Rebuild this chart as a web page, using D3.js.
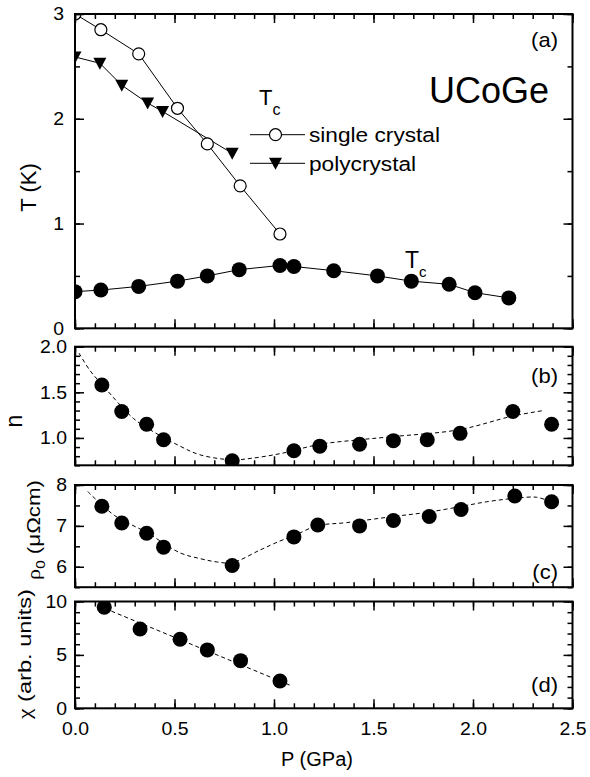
<!DOCTYPE html>
<html>
<head>
<meta charset="utf-8">
<script src="https://cdn.jsdelivr.net/npm/d3@7"></script>
<style>
  body { margin: 0; background: #fff; }
  svg { display: block; font-family: Arial, "Liberation Sans", Helvetica, sans-serif; }
</style>
</head>
<body>
<svg id="chart" width="590" height="777"></svg>
<script>
// ---------- data (pressure P in GPa) ----------
const pressureTicks = [0, 0.5, 1.0, 1.5, 2.0, 2.5];

// (a) Curie temperature, single crystal
const singleCrystalP = [0.0, 0.13, 0.32, 0.515, 0.665, 0.83, 1.03];
const singleCrystalT = [3.0, 2.85, 2.62, 2.10, 1.76, 1.36, 0.90];
// (a) Curie temperature, polycrystal
const polycrystalP = [0.0, 0.125, 0.235, 0.365, 0.44, 0.79];
const polycrystalT = [2.59, 2.53, 2.32, 2.15, 2.07, 1.67];
// (a) superconducting Tc
const scP = [0.0, 0.13, 0.32, 0.515, 0.665, 0.825, 1.03, 1.10, 1.30, 1.52, 1.69, 1.88, 2.01, 2.18];
const scT = [0.35, 0.365, 0.40, 0.45, 0.50, 0.56, 0.60, 0.59, 0.55, 0.50, 0.45, 0.42, 0.34, 0.29];

// (b) resistivity exponent n
const exponentP = [0.135, 0.235, 0.36, 0.445, 0.79, 1.10, 1.23, 1.43, 1.60, 1.77, 1.935, 2.20, 2.395];
const exponentN = [1.58, 1.29, 1.15, 0.98, 0.75, 0.86, 0.91, 0.93, 0.97, 0.98, 1.05, 1.29, 1.15];
const exponentGuideP = [0.02, 0.075, 0.134, 0.293, 0.377, 0.528, 0.628, 0.79, 0.88, 1.036, 1.23, 1.43, 1.6, 1.93, 2.2, 2.353];
const exponentGuideN = [1.93, 1.74, 1.59, 1.215, 1.09, 0.91, 0.815, 0.76, 0.775, 0.83, 0.93, 0.98, 1.015, 1.09, 1.24, 1.30];

// (c) residual resistivity rho0 (µΩcm)
const rhoP = [0.135, 0.235, 0.36, 0.445, 0.79, 1.10, 1.22, 1.43, 1.60, 1.78, 1.94, 2.21, 2.395];
const rhoV = [7.48, 7.07, 6.82, 6.48, 6.03, 6.73, 7.02, 7.00, 7.13, 7.23, 7.40, 7.73, 7.59];
const rhoGuideP = [0.064, 0.2, 0.36, 0.528, 0.628, 0.71, 0.79, 0.93, 1.03, 1.097, 1.215, 1.365, 1.6, 1.767, 1.935, 2.069, 2.203, 2.32, 2.39];
const rhoGuideV = [7.84, 7.25, 6.84, 6.34, 6.20, 6.12, 6.10, 6.41, 6.63, 6.75, 7.0, 7.08, 7.23, 7.33, 7.47, 7.59, 7.67, 7.70, 7.59];

// (d) susceptibility chi (arb. units)
const chiP = [0.147, 0.327, 0.528, 0.665, 0.832, 1.03];
const chiV = [9.47, 7.43, 6.47, 5.47, 4.46, 2.56];
const chiGuideP = [0.15, 1.09];
const chiGuideV = [9.35, 2.09];

// ---------- layout ----------
const svg = d3.select("#chart");
const X0 = 75, X1 = 572.5;
const x = d3.scaleLinear().domain([0, 2.5]).range([X0, X1]);
const xMinor = d3.range(0, 2.5001, 0.1);
const TICK_FONT = 18, TICK_SX = 1.08;

const panels = [
  { key: "a", domain: [0, 3],    range: [328.3, 14],    major: [0, 1, 2, 3],     minor: 0.5, fmt: d3.format("d"),   pad: 11 },
  { key: "b", domain: [0.7, 2],  range: [465.3, 346.7], major: [1.0, 1.5, 2.0],  minor: 0.1, fmt: d3.format(".1f"), pad: 8 },
  { key: "c", domain: [5.5, 8],  range: [587.2, 485],   major: [6, 7, 8],        minor: 0.5, fmt: d3.format("d"),   pad: 8 },
  { key: "d", domain: [0, 10],   range: [708.3, 601.5], major: [0, 5, 10],       minor: 1,   fmt: d3.format("d"),   pad: 8 }
];
panels.forEach(p => { p.y = d3.scaleLinear().domain(p.domain).range(p.range); });
const P = Object.fromEntries(panels.map(p => [p.key, p]));

const zip = (xs, ys) => xs.map((v, i) => [v, ys[i]]);

// text helper: optional horizontal glyph stretch or target length
function addText(parent, o) {
  const t = parent.append("text")
    .attr("font-size", o.size)
    .attr("text-anchor", o.anchor || "start")
    .attr("fill", "#000");
  (o.parts || [[o.text]]).forEach(([s, kind, family]) => {
    const ts = t.append("tspan").text(s);
    if (family) ts.attr("font-family", family);
    if (kind === "sub") ts.attr("font-size", o.subSize || o.size * 0.7).attr("dy", o.subShift || o.size * 0.3);
    if (kind === "back") ts.attr("dy", -(o.subShift || o.size * 0.3));
  });
  let sx = o.sx || 1;
  if (o.length) sx = o.length / t.node().getComputedTextLength();
  t.attr("transform", `translate(${o.x},${o.y}) rotate(${o.rotate || 0}) scale(${sx},1)`);
  return t;
}

// ---------- panels ----------
panels.forEach((p, idx) => {
  const g = svg.append("g").attr("class", "panel-" + p.key);
  const yTop = p.range[1], yBot = p.range[0];

  g.append("clipPath").attr("id", "clip-" + p.key)
    .append("rect").attr("x", X0).attr("y", yTop).attr("width", X1 - X0).attr("height", yBot - yTop);
  p.plot = g.append("g").attr("clip-path", `url(#clip-${p.key})`);
  p.axes = g.append("g");

  const yMinor = d3.range(p.domain[0], p.domain[1] + 1e-6, p.minor);
  const isLast = idx === panels.length - 1;

  // bottom
  p.axes.append("g").attr("transform", `translate(0,${yBot})`)
    .call(d3.axisBottom(x).tickValues(xMinor).tickSize(-5).tickFormat(""));
  const bm = p.axes.append("g").attr("transform", `translate(0,${yBot})`)
    .call(d3.axisBottom(x).tickValues(pressureTicks).tickSize(-9).tickPadding(14)
      .tickFormat(isLast ? d3.format(".1f") : ""));
  bm.selectAll("text").attr("font-size", TICK_FONT).attr("font-family", null).attr("transform", `scale(${TICK_SX},1)`);

  // top
  p.axes.append("g").attr("transform", `translate(0,${yTop})`).call(d3.axisTop(x).tickValues(xMinor).tickSize(-5).tickFormat(""));
  p.axes.append("g").attr("transform", `translate(0,${yTop})`).call(d3.axisTop(x).tickValues(pressureTicks).tickSize(-9).tickFormat(""));

  // left
  p.axes.append("g").attr("transform", `translate(${X0},0)`).call(d3.axisLeft(p.y).tickValues(yMinor).tickSize(-5).tickFormat(""));
  const lm = p.axes.append("g").attr("transform", `translate(${X0},0)`)
    .call(d3.axisLeft(p.y).tickValues(p.major).tickSize(-9).tickPadding(p.pad).tickFormat(p.fmt));
  lm.selectAll("text").attr("font-size", TICK_FONT).attr("font-family", null).each(function () {
    const t = d3.select(this); const xx = +t.attr("x");
    t.attr("x", 0).attr("transform", `translate(${xx},0) scale(${TICK_SX},1)`);
  });

  // right
  p.axes.append("g").attr("transform", `translate(${X1},0)`).call(d3.axisRight(p.y).tickValues(yMinor).tickSize(-5).tickFormat(""));
  p.axes.append("g").attr("transform", `translate(${X1},0)`).call(d3.axisRight(p.y).tickValues(p.major).tickSize(-9).tickFormat(""));

  p.axes.selectAll(".domain").remove();
  p.axes.selectAll(".tick line").attr("stroke", "#000").attr("stroke-width", 1.5);

  // frame
  p.axes.append("rect").attr("x", X0).attr("y", yTop).attr("width", X1 - X0).attr("height", yBot - yTop)
    .attr("fill", "none").attr("stroke", "#000").attr("stroke-width", 2);
});

// ---------- marks ----------
const solid = (xs, ys, yScale) => d3.line().x(d => x(d[0])).y(d => yScale(d[1]))(zip(xs, ys));
const smooth = (xs, ys, yScale) => d3.line().curve(d3.curveCatmullRom.alpha(0.5)).x(d => x(d[0])).y(d => yScale(d[1]))(zip(xs, ys));
const downTri = "M-6.5,-5.5L6.5,-5.5L0,6.5Z";

function filledDots(plot, xs, ys, yScale) {
  plot.selectAll(null).data(zip(xs, ys)).join("circle")
    .attr("cx", d => x(d[0])).attr("cy", d => yScale(d[1])).attr("r", 7.5).attr("fill", "#000");
}
function guide(plot, xs, ys, yScale) {
  plot.append("path").attr("d", smooth(xs, ys, yScale))
    .attr("fill", "none").attr("stroke", "#000").attr("stroke-width", 1).attr("stroke-dasharray", "4,3");
}

// (a)
{
  const p = P.a, y = p.y;
  [[singleCrystalP, singleCrystalT], [polycrystalP, polycrystalT], [scP, scT]].forEach(([xs, ys]) =>
    p.plot.append("path").attr("d", solid(xs, ys, y)).attr("fill", "none").attr("stroke", "#000").attr("stroke-width", 1));
  p.plot.selectAll(null).data(zip(polycrystalP, polycrystalT)).join("path")
    .attr("d", downTri).attr("transform", d => `translate(${x(d[0])},${y(d[1])})`).attr("fill", "#000");
  p.plot.selectAll(null).data(zip(singleCrystalP, singleCrystalT)).join("circle")
    .attr("cx", d => x(d[0])).attr("cy", d => y(d[1])).attr("r", 6)
    .attr("fill", "#fff").attr("stroke", "#000").attr("stroke-width", 1.2);
  filledDots(p.plot, scP, scT, y);
}
// (b)
guide(P.b.plot, exponentGuideP, exponentGuideN, P.b.y);
filledDots(P.b.plot, exponentP, exponentN, P.b.y);
// (c)
guide(P.c.plot, rhoGuideP, rhoGuideV, P.c.y);
filledDots(P.c.plot, rhoP, rhoV, P.c.y);
// (d)
guide(P.d.plot, chiGuideP, chiGuideV, P.d.y);
filledDots(P.d.plot, chiP, chiV, P.d.y);

// ---------- annotations ----------
const ann = svg.append("g");
const GREEK = "'Liberation Serif', 'DejaVu Serif', serif";

// legend
addText(ann, { x: 259, y: 105, size: 22, parts: [["T"], ["c", "sub"]], subSize: 16, subShift: 10 });
ann.append("line").attr("x1", 250).attr("x2", 305).attr("y1", 134.7).attr("y2", 134.7).attr("stroke", "#000");
ann.append("circle").attr("cx", 275.5).attr("cy", 134.7).attr("r", 6).attr("fill", "#fff").attr("stroke", "#000").attr("stroke-width", 1.2);
ann.append("line").attr("x1", 250).attr("x2", 305).attr("y1", 163.3).attr("y2", 163.3).attr("stroke", "#000");
ann.append("path").attr("d", downTri).attr("transform", "translate(275.5,163.3)").attr("fill", "#000");
addText(ann, { x: 309, y: 142, size: 21, sx: 1.08, text: "single crystal" });
addText(ann, { x: 309, y: 170.5, size: 21, sx: 1.08, text: "polycrystal" });

addText(ann, { x: 549, y: 103, size: 36, anchor: "end", text: "UCoGe" });
addText(ann, { x: 405, y: 268.3, size: 23, parts: [["T"], ["c", "sub"]], subSize: 15, subShift: 8.7 });

// panel letters
[["(a)", 47], ["(b)", 383], ["(c)", 579], ["(d)", 692]].forEach(([s, yy]) =>
  addText(ann, { x: 558, y: yy, size: 20, sx: 1.1, anchor: "end", text: s }));

// axis titles
addText(ann, { x: 317, y: 766, size: 20, anchor: "middle", text: "P (GPa)" });
addText(ann, { x: 36, y: 187.5, size: 22, rotate: -90, anchor: "middle", text: "T (K)" });
addText(ann, { x: 22, y: 421, size: 23, rotate: -90, anchor: "middle", text: "n" });
addText(ann, { x: 40, y: 530, size: 19, rotate: -90, anchor: "middle", length: 100,
  parts: [["ρ", null, GREEK], ["0", "sub"], [" (μΩcm)", "back"]], subSize: 13, subShift: 5 });
addText(ann, { x: 31, y: 654, size: 19, rotate: -90, anchor: "middle", length: 130,
  parts: [["χ", null, GREEK], [" (arb. units)"]] });
</script>
</body>
</html>
